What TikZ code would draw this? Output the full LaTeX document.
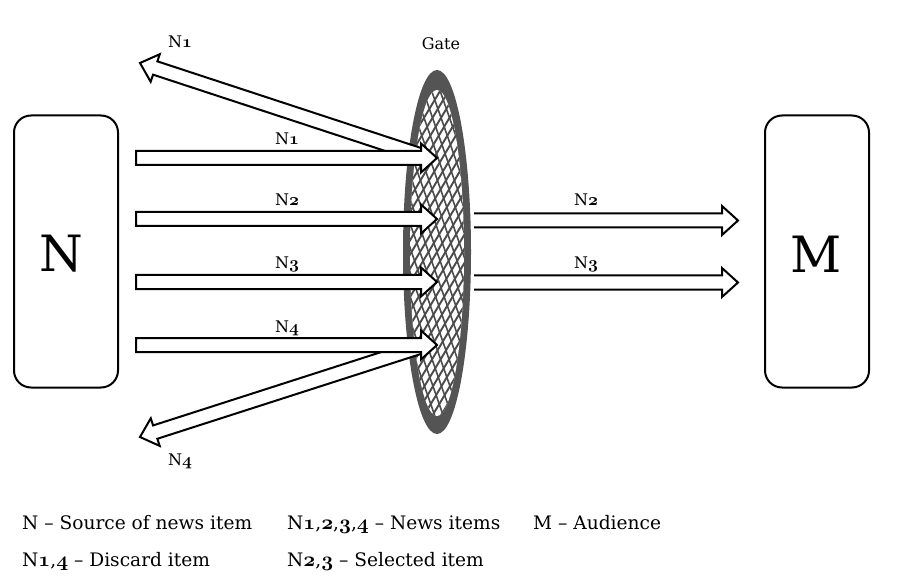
\documentclass[tikz,border=0pt]{standalone}
\usepackage{fontspec}
\setmainfont{DejaVu Serif}
\usetikzlibrary{calc}
\definecolor{gatedark}{gray}{0.33}
\definecolor{gatehatch}{gray}{0.30}
\tikzset{
  box/.style={draw=black, line width=2pt, rounded corners=17pt, fill=white},
  arr/.style={draw=black, line width=2pt, fill=white, line join=miter},
  lbl/.style={font=\fontsize{16}{19}\selectfont, anchor=base, inner sep=0pt},
  legend/.style={font=\fontsize{18.6}{22}\selectfont, anchor=base west, inner sep=0pt},
  big/.style={font=\fontsize{50}{56}\selectfont, inner sep=0pt}
}
\makeatletter
\newcommand\os[1]{{\fontencoding{OML}\fontfamily{cmm}\fontseries{b}\fontshape{it}%
  \fontsize{\strip@pt\dimexpr1.12\dimexpr\f@size pt\relax\relax}{0}\selectfont #1}}
\makeatother
% closed hollow arrow from #1 (tail centre) to #2 (tip)
\newcommand\hollowarr[2]{%
  \path ($(#2)!16pt!(#1)$) coordinate (hb);
  \draw[arr] ($(#1)!7pt!90:(#2)$) -- ($(hb)!7pt!-90:(#1)$) -- ($(hb)!14.5pt!-90:(#1)$)
     -- (#2) -- ($(hb)!14.5pt!90:(#1)$) -- ($(hb)!7pt!90:(#1)$) -- ($(#1)!7pt!-90:(#2)$) -- cycle;}
% open-tail hollow arrow
\newcommand\openarr[2]{%
  \path ($(#2)!16pt!(#1)$) coordinate (hb);
  \fill[white] ($(#1)!7pt!90:(#2)$) -- ($(hb)!7pt!-90:(#1)$) -- ($(hb)!14.5pt!-90:(#1)$)
     -- (#2) -- ($(hb)!14.5pt!90:(#1)$) -- ($(hb)!7pt!90:(#1)$) -- ($(#1)!7pt!-90:(#2)$) -- cycle;
  \draw[arr, fill=none] ($(#1)!7pt!90:(#2)$) -- ($(hb)!7pt!-90:(#1)$) -- ($(hb)!14.5pt!-90:(#1)$)
     -- (#2) -- ($(hb)!14.5pt!90:(#1)$) -- ($(hb)!7pt!90:(#1)$) -- ($(#1)!7pt!-90:(#2)$);}
\begin{document}
\begin{tikzpicture}[x=1pt, y=-1pt]
\useasboundingbox[fill=white] (0,0) rectangle (899,585);

% boxes
\node[box, minimum width=104pt, minimum height=272pt] (N) at (66,251.5) {};
\node[big] (Nt) at (61,254) {N};
\node[box, minimum width=104pt, minimum height=272pt] (M) at (817,251.5) {};
\node[big] (Mt) at (816,254) {M};

% gate
\fill[gatedark] (437,252) ellipse [x radius=34, y radius=182];
\begin{scope}
  \clip (437,253) ellipse [x radius=27, y radius=163];
  \fill[white] (400,80) rectangle (475,430);
  \foreach \i in {-40,...,40} {
    \draw[gatehatch, line width=1.9pt] (437+8.5*\i-120,452) -- (437+8.5*\i+120,52);
    \draw[gatehatch, line width=1.6pt] (437+8.5*\i+70,452) -- (437+8.5*\i-70,52);
  }
\end{scope}
\node[lbl] (gate) at (441,50) {Gate};

% coordinates
\coordinate (d1t) at (426,157);
\coordinate (d1h) at (140,63);
\coordinate (d4t) at (426,345);
\coordinate (d4h) at (140,437);
\coordinate (a1t) at (136,158);
\coordinate (a1h) at (437,158);
\coordinate (a2t) at (136,219);
\coordinate (a2h) at (437,219);
\coordinate (a3t) at (136,282);
\coordinate (a3h) at (437,282);
\coordinate (a4t) at (136,345);
\coordinate (a4h) at (437,345);
\coordinate (b2t) at (474,220.5);
\coordinate (b2h) at (738,220.5);
\coordinate (b3t) at (474,282.5);
\coordinate (b3h) at (738,282.5);

% discard arrows
\hollowarr{d1t}{d1h}
\hollowarr{d4t}{d4h}
% incoming arrows
\hollowarr{a1t}{a1h}
\hollowarr{a2t}{a2h}
\hollowarr{a3t}{a3h}
\hollowarr{a4t}{a4h}
% selected arrows
\openarr{b2t}{b2h}
\openarr{b3t}{b3h}

% labels
\node[lbl] (l1top) at (180,48) {N\os{1}};
\node[lbl] (l1) at (287,145) {N\os{1}};
\node[lbl] (l2) at (287,206) {N\os{2}};
\node[lbl] (l3) at (287,269) {N\os{3}};
\node[lbl] (l4) at (287,332) {N\os{4}};
\node[lbl] (l4bot) at (180,465) {N\os{4}};
\node[lbl] (r2) at (586,206) {N\os{2}};
\node[lbl] (r3) at (586,269) {N\os{3}};

% legend
\node[legend] (g1) at (22,529) {N -- Source of news item};
\node[legend] (g2) at (287,529) {N\os{1},\os{2},\os{3},\os{4} -- News items};
\node[legend] (g3) at (533,529) {M -- Audience};
\node[legend] (g4) at (22,566) {N\os{1},\os{4} -- Discard item};
\node[legend] (g5) at (287,566) {N\os{2},\os{3} -- Selected item};
\end{tikzpicture}
\end{document}
